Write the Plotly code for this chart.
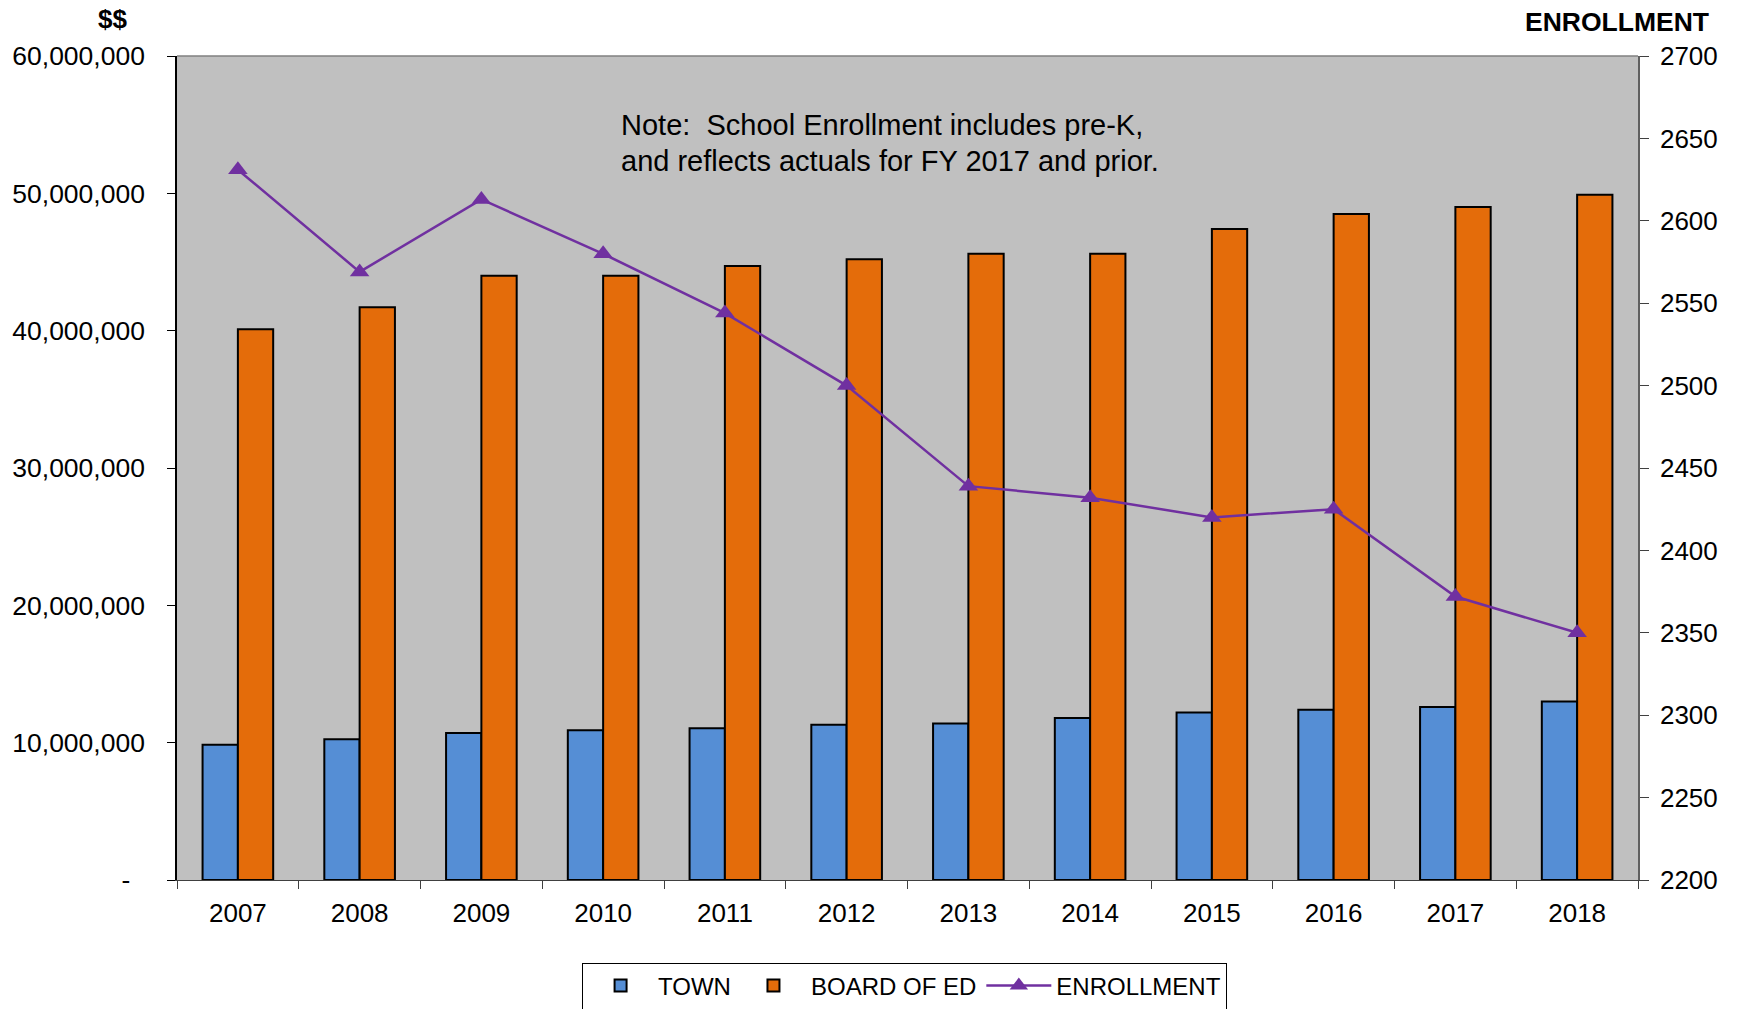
import plotly.graph_objects as go

years = ["2007", "2008", "2009", "2010", "2011", "2012", "2013", "2014", "2015", "2016", "2017", "2018"]
town = [9.84e6, 10.24e6, 10.7e6, 10.9e6, 11.05e6, 11.3e6, 11.4e6, 11.8e6, 12.2e6, 12.4e6, 12.6e6, 13.0e6]
board_of_ed = [40.1e6, 41.7e6, 44.0e6, 44.0e6, 44.7e6, 45.2e6, 45.6e6, 45.6e6, 47.4e6, 48.5e6, 49.0e6, 49.9e6]
enrollment = [2631, 2569, 2613, 2580, 2544, 2500, 2439, 2432, 2420, 2425, 2372, 2350]

left_tickvals = [0, 10e6, 20e6, 30e6, 40e6, 50e6, 60e6]
left_ticktext = ["-\u00a0\u00a0", "10,000,000", "20,000,000", "30,000,000", "40,000,000", "50,000,000", "60,000,000"]
right_tickvals = [2200, 2250, 2300, 2350, 2400, 2450, 2500, 2550, 2600, 2650, 2700]

FONT = "Liberation Sans, Arial, sans-serif"

fig = go.Figure()
fig.add_trace(go.Bar(x=years, y=town, name="TOWN",
                     marker=dict(color="#558ED5", line=dict(color="black", width=2))))
fig.add_trace(go.Bar(x=years, y=board_of_ed, name="BOARD OF ED",
                     marker=dict(color="#E46C0A", line=dict(color="black", width=2))))
fig.add_trace(go.Scatter(x=years, y=enrollment, name="ENROLLMENT", yaxis="y2",
                         mode="lines+markers",
                         line=dict(color="#7030A0", width=2.5),
                         marker=dict(symbol="triangle-up", size=17, color="#7030A0")))

fig.update_layout(
    width=1738, height=1009,
    margin=dict(l=175, r=100, t=56, b=129),
    paper_bgcolor="white", plot_bgcolor="#C0C0C0",
    barmode="group", bargap=0.42, bargroupgap=0,
    font=dict(family=FONT, size=24, color="black"),
    showlegend=True,
    legend=dict(orientation="h", xref="paper", x=0.498, xanchor="center",
                yref="container", y=1 - 986 / 1009, yanchor="middle",
                bordercolor="black", borderwidth=1, bgcolor="white",
                font=dict(size=24), itemwidth=65, tracegroupgap=0),
    xaxis=dict(type="category", range=[-0.5, 11.5], showgrid=False, showline=True,
               linecolor="#404040", linewidth=1,
               ticks="outside", ticklen=8, tickcolor="#404040", tickson="boundaries",
               tickfont=dict(size=26), ticklabelstandoff=10),
    yaxis=dict(range=[0, 60e6], tickvals=left_tickvals, ticktext=left_ticktext,
               showgrid=False, zeroline=False, showline=True, linecolor="black", linewidth=1.5,
               ticks="outside", ticklen=8, tickcolor="black",
               tickfont=dict(size=26.5), ticklabelstandoff=17),
    yaxis2=dict(range=[2200, 2700], tickvals=right_tickvals, overlaying="y", side="right",
                showgrid=False, zeroline=False, showline=True, linecolor="#606060", linewidth=1.5,
                ticks="outside", ticklen=9, tickcolor="#404040",
                tickfont=dict(size=26), ticklabelstandoff=6),
)

fig.add_shape(type="line", xref="paper", yref="paper", x0=0, x1=1, y0=1, y1=1,
              line=dict(color="#808080", width=1.5))

fig.add_annotation(text="<b>$$</b>", xref="paper", yref="paper", x=(110 - 175) / 1463, y=(880 - 19) / 824,
                   xanchor="center", yanchor="middle", showarrow=False, font=dict(size=26))
fig.add_annotation(text="<b>ENROLLMENT</b>", xref="paper", yref="paper", x=(1711 - 175) / 1463, y=(880 - 22) / 824,
                   xanchor="right", yanchor="middle", showarrow=False, font=dict(size=26.5))
fig.add_annotation(text="Note:  School Enrollment includes pre-K,", xref="paper", yref="paper",
                   x=(618 - 175) / 1463, y=(880 - 125) / 824, xanchor="left", yanchor="middle",
                   showarrow=False, font=dict(size=29))
fig.add_annotation(text="and reflects actuals for FY 2017 and prior.", xref="paper", yref="paper",
                   x=(618 - 175) / 1463, y=(880 - 161) / 824, xanchor="left", yanchor="middle",
                   showarrow=False, font=dict(size=29))

fig.write_html("out.html")
